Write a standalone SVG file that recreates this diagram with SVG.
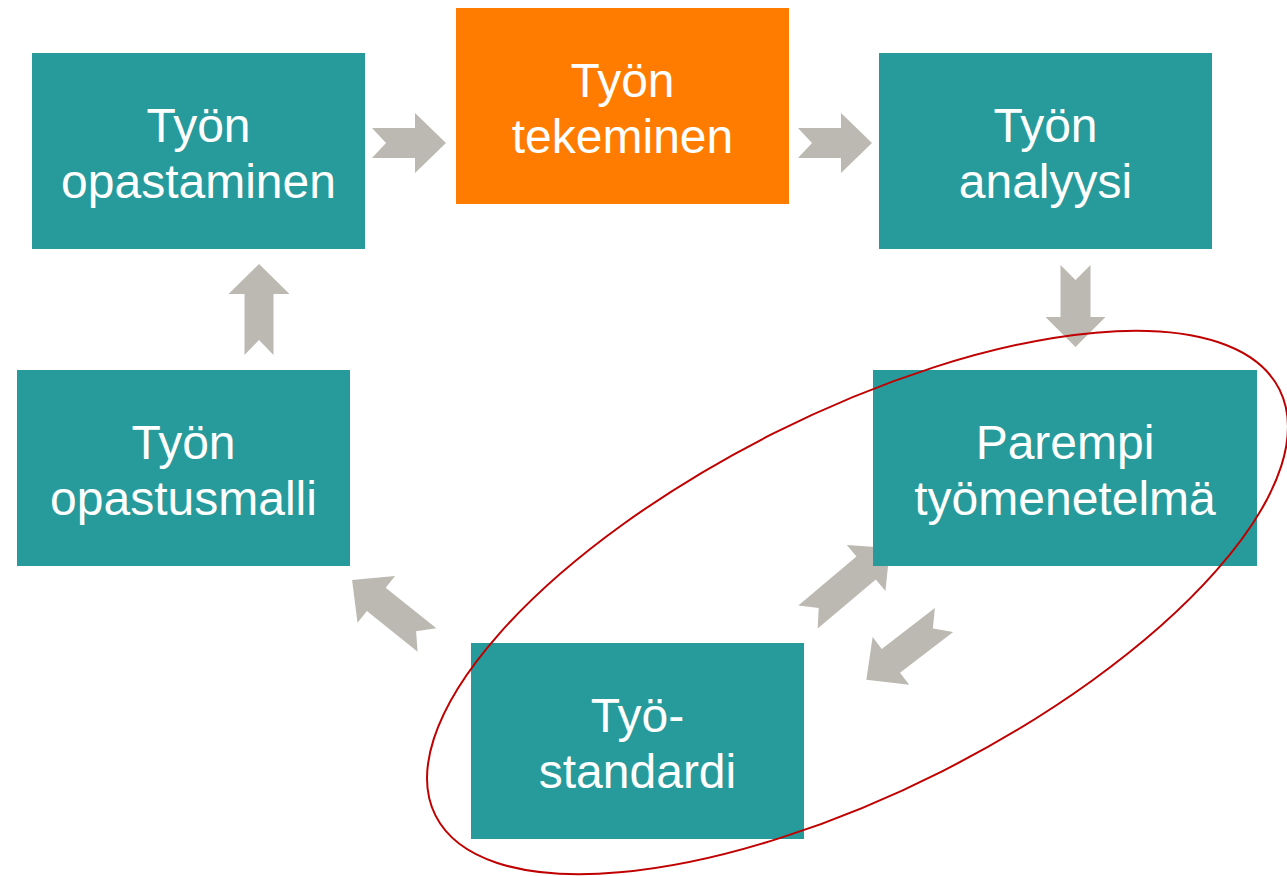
<svg xmlns="http://www.w3.org/2000/svg" width="1287" height="876" viewBox="0 0 1287 876">
  <style>
    .box { fill: #279B9B; }
    .hot { fill: #FF7C00; }
    .lbl { font-family: "Liberation Sans", Arial, sans-serif; font-size: 48px; fill: #FFFFFF; text-anchor: middle; }
    .arr { fill: #BCB9B2; }
  </style>
  <rect width="1287" height="876" fill="#FFFFFF"/>

  <!-- notched block arrows: tail at origin, pointing along +x -->
  <g id="connectors">
    <path class="arr" transform="translate(372,143)" d="M0,-15 H43 V-30 L74,0 L43,30 V15 H0 L14,0 Z"/>
    <path class="arr" transform="translate(798,143)" d="M0,-15 H43 V-30 L74,0 L43,30 V15 H0 L14,0 Z"/>
    <path class="arr" transform="translate(1075.5,265) rotate(90)" d="M0,-15 H52 V-30 L82,0 L52,30 V15 H0 L15,0 Z"/>
    <path class="arr" transform="translate(259,355) rotate(-90)" d="M0,-14.5 H61 V-30.5 L91,0 L61,30.5 V14.5 H0 L15,0 Z"/>
    <path class="arr" transform="translate(427,640) rotate(-141.3)" d="M0,-15 H65 V-30 L96,0 L65,30 V15 H0 L14,0 Z"/>
    <path class="arr" transform="translate(808,617) rotate(-40.1)" d="M0,-15 H76 V-30 L107,0 L76,30 V15 H0 L14,0 Z"/>
    <path class="arr" transform="translate(944,620) rotate(142.4)" d="M0,-15 H67 V-30 L98,0 L67,30 V15 H0 L14,0 Z"/>
  </g>

  <g id="tyon-opastaminen">
    <rect class="box" x="32" y="53" width="333" height="196"/>
    <text class="lbl" x="198.5" y="142">Työn</text>
    <text class="lbl" x="198.5" y="198">opastaminen</text>
  </g>
  <g id="tyon-tekeminen">
    <rect class="hot" x="456" y="8" width="333" height="196"/>
    <text class="lbl" x="622.5" y="97">Työn</text>
    <text class="lbl" x="622.5" y="153">tekeminen</text>
  </g>
  <g id="tyon-analyysi">
    <rect class="box" x="879" y="53" width="333" height="196"/>
    <text class="lbl" x="1045.5" y="142">Työn</text>
    <text class="lbl" x="1045.5" y="198">analyysi</text>
  </g>
  <g id="parempi-tyomenetelma">
    <rect class="box" x="873" y="370" width="384" height="196"/>
    <text class="lbl" x="1065" y="459">Parempi</text>
    <text class="lbl" x="1065" y="515">työmenetelmä</text>
  </g>
  <g id="tyon-opastusmalli">
    <rect class="box" x="17" y="370" width="333" height="196"/>
    <text class="lbl" x="183.5" y="459">Työn</text>
    <text class="lbl" x="183.5" y="515">opastusmalli</text>
  </g>
  <g id="tyostandardi">
    <rect class="box" x="471" y="643" width="333" height="196"/>
    <text class="lbl" x="637.5" y="732">Työ-</text>
    <text class="lbl" x="637.5" y="788">standardi</text>
  </g>

  <!-- highlight ring around the improvement loop -->
  <ellipse id="highlight" cx="857.5" cy="602.5" rx="472.7" ry="188.8" transform="rotate(-26.8 857.5 602.5)" fill="none" stroke="#C00000" stroke-width="2"/>
</svg>
